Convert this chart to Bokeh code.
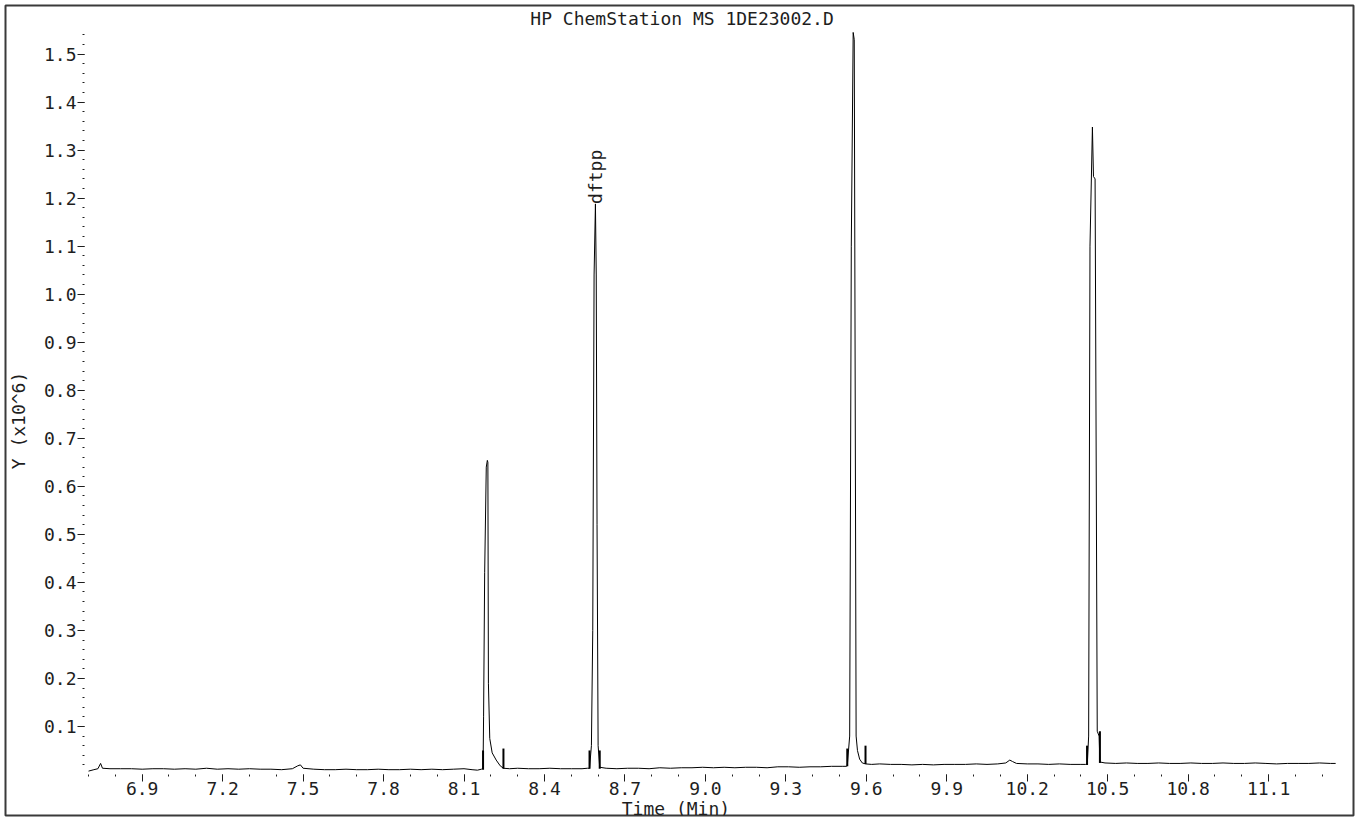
import math
from bokeh.plotting import figure
from bokeh.models import FixedTicker, NumeralTickFormatter, Label, Range1d
from bokeh.embed import file_html
from bokeh.resources import INLINE

# ---- data (time in min, abundance in 10^6 counts) ----
time_min = [
    6.700, 6.720, 6.735, 6.745, 6.752, 6.780, 6.820, 6.860, 6.900, 6.940,
    6.980, 7.020, 7.060, 7.100, 7.140, 7.180, 7.220, 7.260, 7.300, 7.340,
    7.380, 7.420, 7.460, 7.480, 7.490, 7.500, 7.540, 7.580, 7.620, 7.660,
    7.700, 7.740, 7.780, 7.820, 7.860, 7.900, 7.940, 7.980, 8.020, 8.060,
    8.100, 8.130, 8.150, 8.165,
    8.171, 8.173, 8.177, 8.183, 8.187, 8.189, 8.191, 8.196, 8.205, 8.220,
    8.235, 8.247, 8.270, 8.300, 8.340, 8.380, 8.420, 8.460, 8.500, 8.540,
    8.560,
    8.568, 8.575, 8.580, 8.585, 8.590, 8.593, 8.596, 8.600, 8.606, 8.630,
    8.670, 8.710, 8.750, 8.790, 8.830, 8.870, 8.910, 8.950, 8.990, 9.030,
    9.070, 9.110, 9.150, 9.190, 9.230, 9.270, 9.310, 9.350, 9.390, 9.430,
    9.470, 9.510, 9.525,
    9.529, 9.538, 9.544, 9.551, 9.555, 9.562, 9.567, 9.575, 9.585, 9.597,
    9.620, 9.650, 9.690, 9.730, 9.770, 9.810, 9.850, 9.890, 9.930, 9.970,
    10.010, 10.050, 10.090, 10.120, 10.135, 10.145, 10.160, 10.200, 10.240, 10.280,
    10.320, 10.360, 10.400, 10.418,
    10.424, 10.429, 10.434, 10.443, 10.447, 10.453, 10.461, 10.468, 10.471, 10.490,
    10.530, 10.570, 10.610, 10.650, 10.690, 10.730, 10.770, 10.810, 10.850, 10.890,
    10.930, 10.970, 11.010, 11.050, 11.090, 11.130, 11.170, 11.210, 11.250, 11.290,
    11.330, 11.350,
]
abundance = [
    0.007, 0.010, 0.012, 0.023, 0.013, 0.012, 0.012, 0.012, 0.011, 0.012,
    0.012, 0.011, 0.012, 0.011, 0.013, 0.011, 0.012, 0.011, 0.012, 0.011,
    0.011, 0.010, 0.012, 0.018, 0.020, 0.013, 0.011, 0.010, 0.010, 0.011,
    0.010, 0.010, 0.011, 0.010, 0.010, 0.011, 0.010, 0.011, 0.010, 0.011,
    0.012, 0.010, 0.009, 0.011,
    0.013, 0.120, 0.420, 0.640, 0.654, 0.650, 0.190, 0.075, 0.045, 0.030,
    0.018, 0.013, 0.012, 0.013, 0.012, 0.012, 0.013, 0.012, 0.012, 0.012,
    0.013,
    0.013, 0.060, 0.300, 1.040, 1.188, 1.040, 0.520, 0.060, 0.015, 0.013,
    0.012, 0.013, 0.013, 0.012, 0.014, 0.013, 0.014, 0.014, 0.015, 0.014,
    0.015, 0.014, 0.015, 0.015, 0.014, 0.016, 0.016, 0.015, 0.016, 0.016,
    0.017, 0.017, 0.017,
    0.018, 0.080, 1.100, 1.545, 1.530, 0.080, 0.050, 0.032, 0.024, 0.022,
    0.021, 0.022, 0.021, 0.021, 0.020, 0.021, 0.020, 0.021, 0.021, 0.021,
    0.022, 0.021, 0.022, 0.024, 0.030, 0.027, 0.023, 0.022, 0.022, 0.021,
    0.022, 0.021, 0.021, 0.021,
    0.022, 0.080, 1.100, 1.348, 1.245, 1.240, 0.090, 0.080, 0.026, 0.024,
    0.023, 0.024, 0.023, 0.023, 0.024, 0.023, 0.023, 0.024, 0.023, 0.023,
    0.024, 0.023, 0.023, 0.024, 0.023, 0.022, 0.023, 0.023, 0.023, 0.024,
    0.023, 0.023,
]

# integration start / end ticks
marker_time = [8.171, 8.247, 8.568, 8.606, 9.529, 9.597, 10.423, 10.471]
marker_low = [0.010, 0.012, 0.012, 0.012, 0.017, 0.022, 0.020, 0.024]
marker_high = [0.050, 0.054, 0.050, 0.050, 0.054, 0.060, 0.060, 0.090]

peak_names = ["dftpp"]
peak_time = [8.590]
peak_height = [1.188]

x_major = [6.9, 7.2, 7.5, 7.8, 8.1, 8.4, 8.7, 9.0, 9.3, 9.6, 9.9, 10.2, 10.5, 10.8, 11.1]
x_minor = [round(6.7 + 0.1 * i, 1) for i in range(47)]
y_major = [0.1, 0.2, 0.3, 0.4, 0.5, 0.6, 0.7, 0.8, 0.9, 1.0, 1.1, 1.2, 1.3, 1.4, 1.5]
y_minor = [round(0.02 * i, 2) for i in range(1, 78)]

title_text = "HP ChemStation MS 1DE23002.D"
x_title = "Time (Min)"
y_title = "Y (x10^6)"

FONT = "DejaVu Sans Mono"
FS = "18px"
INK = "#1e1e1e"

X_AXIS_AT = 0.0      # x axis drawn at zero abundance
Y_AXIS_AT = 6.685    # y axis drawn at left end of the time axis

p = figure(width=1358, height=818, output_backend="svg", toolbar_location=None,
           x_range=Range1d(6.3904, 11.4165), y_range=Range1d(-0.0854, 1.6011),
           min_border_left=5, min_border_right=5, min_border_top=5,
           min_border_bottom=3)
p.background_fill_color = "white"
p.border_fill_color = "white"
p.outline_line_color = "#3a3a3a"
p.outline_line_width = 2
p.xgrid.visible = False
p.ygrid.visible = False

p.line(time_min, abundance, line_color="black", line_width=1)
p.segment(x0=marker_time, y0=marker_low, x1=marker_time, y1=marker_high,
          line_color="black", line_width=2)

for ax in (p.xaxis[0], p.yaxis[0]):
    ax.axis_line_color = None
    ax.major_tick_line_color = INK
    ax.minor_tick_line_color = INK
    ax.major_tick_in = 0
    ax.major_tick_out = 7
    ax.minor_tick_in = 0
    ax.minor_tick_out = 2
    ax.major_label_text_font = FONT
    ax.major_label_text_font_size = FS
    ax.major_label_text_color = INK
    ax.formatter = NumeralTickFormatter(format="0.0")

p.xaxis[0].ticker = FixedTicker(ticks=x_major, minor_ticks=x_minor)
p.yaxis[0].ticker = FixedTicker(ticks=y_major, minor_ticks=y_minor)
p.xaxis[0].fixed_location = X_AXIS_AT
p.yaxis[0].fixed_location = Y_AXIS_AT
p.xaxis[0].major_label_standoff = 1
p.yaxis[0].major_label_standoff = 1

# title and axis titles
p.add_layout(Label(x=8.913, y=1.574, text=title_text,
                   text_font=FONT, text_font_size=FS, text_color=INK,
                   text_align="center", text_baseline="middle"))
p.add_layout(Label(x=8.890, y=-0.071, text=x_title,
                   text_font=FONT, text_font_size=FS, text_color=INK,
                   text_align="center", text_baseline="middle"))
p.add_layout(Label(x=6.439, y=0.737, text=y_title, angle=math.pi / 2,
                   text_font=FONT, text_font_size=FS, text_color=INK,
                   text_align="center", text_baseline="middle"))

for name, t, h in zip(peak_names, peak_time, peak_height):
    p.add_layout(Label(x=t, y=h, text=name, angle=math.pi / 2,
                       text_font=FONT, text_font_size=FS, text_color=INK,
                       text_align="left", text_baseline="middle"))

open("out.html", "w").write(file_html(p, INLINE))
